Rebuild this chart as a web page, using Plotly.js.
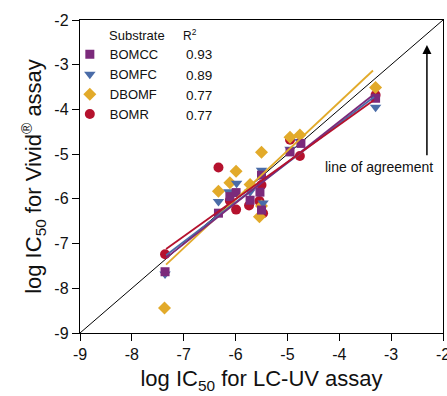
<!DOCTYPE html>
<html>
<head>
<meta charset="utf-8">
<script src="https://cdn.plot.ly/plotly-3.0.1.min.js"></script>
<style>html,body{margin:0;padding:0;background:#fff;}#chart{width:447px;height:396px;}</style>
</head>
<body>
<div id="chart"></div>
<script>
// Substrate data: log IC50 (LC-UV) vs log IC50 (Vivid)
var bomccX = [-7.36, -6.33, -6.11, -5.99, -5.72, -5.53, -5.50, -5.50, -4.95, -4.74, -3.30];
var bomccY = [-7.63, -6.32, -5.95, -5.86, -6.03, -5.85, -5.47, -6.25, -4.95, -4.76, -3.75];
var bomfcX = [-7.36, -6.33, -6.13, -5.98, -5.72, -5.50, -5.47, -4.95, -4.76, -3.30];
var bomfcY = [-7.68, -6.06, -5.84, -5.65, -5.84, -5.36, -6.09, -4.89, -4.72, -3.95];
var dbomfX = [-7.37, -6.33, -6.11, -5.99, -5.72, -5.50, -5.50, -5.54, -4.95, -4.76, -3.30];
var dbomfY = [-8.44, -5.83, -5.64, -5.38, -5.68, -4.96, -6.16, -6.40, -4.62, -4.57, -3.51];
var bomrX  = [-7.36, -6.33, -6.11, -5.99, -5.74, -5.54, -5.50, -5.47, -4.95, -4.76, -3.30];
var bomrY  = [-7.24, -5.30, -6.04, -6.24, -6.15, -6.05, -5.69, -6.32, -4.68, -5.04, -3.68];

// Regression line end points
var fitBomccX = [-7.34, -3.33], fitBomccY = [-7.32, -3.66];
var fitBomfcX = [-7.34, -3.33], fitBomfcY = [-7.26, -3.72];
var fitDbomfX = [-7.34, -3.35], fitDbomfY = [-7.47, -3.13];
var fitBomrX  = [-7.34, -3.33], fitBomrY  = [-7.12, -3.79];

// Line of agreement
var agreeX = [-9, -2], agreeY = [-9, -2];

var names = ['BOMCC', 'BOMFC', 'DBOMF', 'BOMR'];
var r2 = ['0.93', '0.89', '0.77', '0.77'];
var xTicks = [-9, -8, -7, -6, -5, -4, -3, -2];
var yTicks = [-9, -8, -7, -6, -5, -4, -3, -2];

var cPurple = '#7b2a7b', cBlue = '#4a6ca8', cYellow = '#e2aa2a', cRed = '#b5122e';

var traces = [
  {x: agreeX, y: agreeY, mode: 'lines', line: {color: '#000', width: 1}, showlegend: false, hoverinfo: 'skip'},
  {x: bomrX, y: bomrY, mode: 'markers', name: names[3], marker: {symbol: 'circle', size: 10, color: cRed}, legendrank: 4},
  {x: dbomfX, y: dbomfY, mode: 'markers', name: names[2], marker: {symbol: 'diamond', size: 10, color: cYellow}, legendrank: 3},
  {x: bomfcX, y: bomfcY, mode: 'markers', name: names[1], marker: {symbol: 'triangle-down', size: 10, color: cBlue}, legendrank: 2},
  {x: bomccX, y: bomccY, mode: 'markers', name: names[0], marker: {symbol: 'square', size: 9, color: cPurple}, legendrank: 1},
  {x: fitDbomfX, y: fitDbomfY, mode: 'lines', line: {color: cYellow, width: 1.8}, showlegend: false},
  {x: fitBomfcX, y: fitBomfcY, mode: 'lines', line: {color: cBlue, width: 1.8}, showlegend: false},
  {x: fitBomccX, y: fitBomccY, mode: 'lines', line: {color: cPurple, width: 1.8}, showlegend: false},
  {x: fitBomrX, y: fitBomrY, mode: 'lines', line: {color: cRed, width: 1.8}, showlegend: false}
];

var ann = [
  {xref: 'paper', yref: 'paper', x: 0.074, y: 0.949, text: 'Substrate', showarrow: false, xanchor: 'left', yanchor: 'middle', font: {size: 13}},
  {xref: 'paper', yref: 'paper', x: 0.303, y: 0.951, text: 'R<sup>2</sup>', showarrow: false, xanchor: 'center', yanchor: 'middle', font: {size: 12}},
  {x: -2.31, y: -2.56, ax: -2.31, ay: -5.06, axref: 'x', ayref: 'y', xref: 'x', yref: 'y', text: '', showarrow: true, arrowhead: 2, arrowsize: 1.2, arrowwidth: 1.5, arrowcolor: '#000'},
  {x: -2.155, y: -5.29, xref: 'x', yref: 'y', text: 'line of agreement', showarrow: false, xanchor: 'right', yanchor: 'middle', font: {size: 14}}
];
var rowY = [0.890, 0.824, 0.758, 0.694];
for (var i = 0; i < r2.length; i++) {
  ann.push({xref: 'paper', yref: 'paper', x: 0.2865, y: rowY[i], text: r2[i], showarrow: false, xanchor: 'left', yanchor: 'middle', font: {size: 13.5}});
}

var layout = {
  width: 447, height: 396,
  margin: {l: 80, r: 4, t: 20, b: 63},
  paper_bgcolor: '#fff', plot_bgcolor: '#fff',
  font: {family: 'Liberation Sans, Arial, sans-serif', color: '#111', size: 14},
  showlegend: true,
  legend: {x: -0.028, y: 0.938, xanchor: 'left', yanchor: 'top', bgcolor: 'rgba(0,0,0,0)', font: {size: 13},
           traceorder: 'normal', tracegroupgap: 0},
  xaxis: {range: [-9, -2], tickvals: xTicks, ticktext: xTicks.map(String), showgrid: false, zeroline: false,
          showline: true, linecolor: '#000', linewidth: 1.2, mirror: true, ticks: 'outside', ticklen: 7, tickcolor: '#000',
          tickfont: {size: 16}, ticklabeloverflow: 'allow',
          title: {text: 'log IC<sub>50</sub> for LC-UV assay', font: {size: 22}, standoff: 8}},
  yaxis: {range: [-9, -2], tickvals: yTicks, ticktext: yTicks.map(String), showgrid: false, zeroline: false,
          showline: true, linecolor: '#000', linewidth: 1.2, mirror: true, ticks: 'outside', ticklen: 7, tickcolor: '#000',
          tickfont: {size: 16},
          title: {text: 'log IC<sub>50</sub> for Vivid<sup>®</sup> assay', font: {size: 22}, standoff: 6}},
  annotations: ann
};

Plotly.newPlot('chart', traces, layout, {displayModeBar: false, staticPlot: true});
</script>
</body>
</html>
